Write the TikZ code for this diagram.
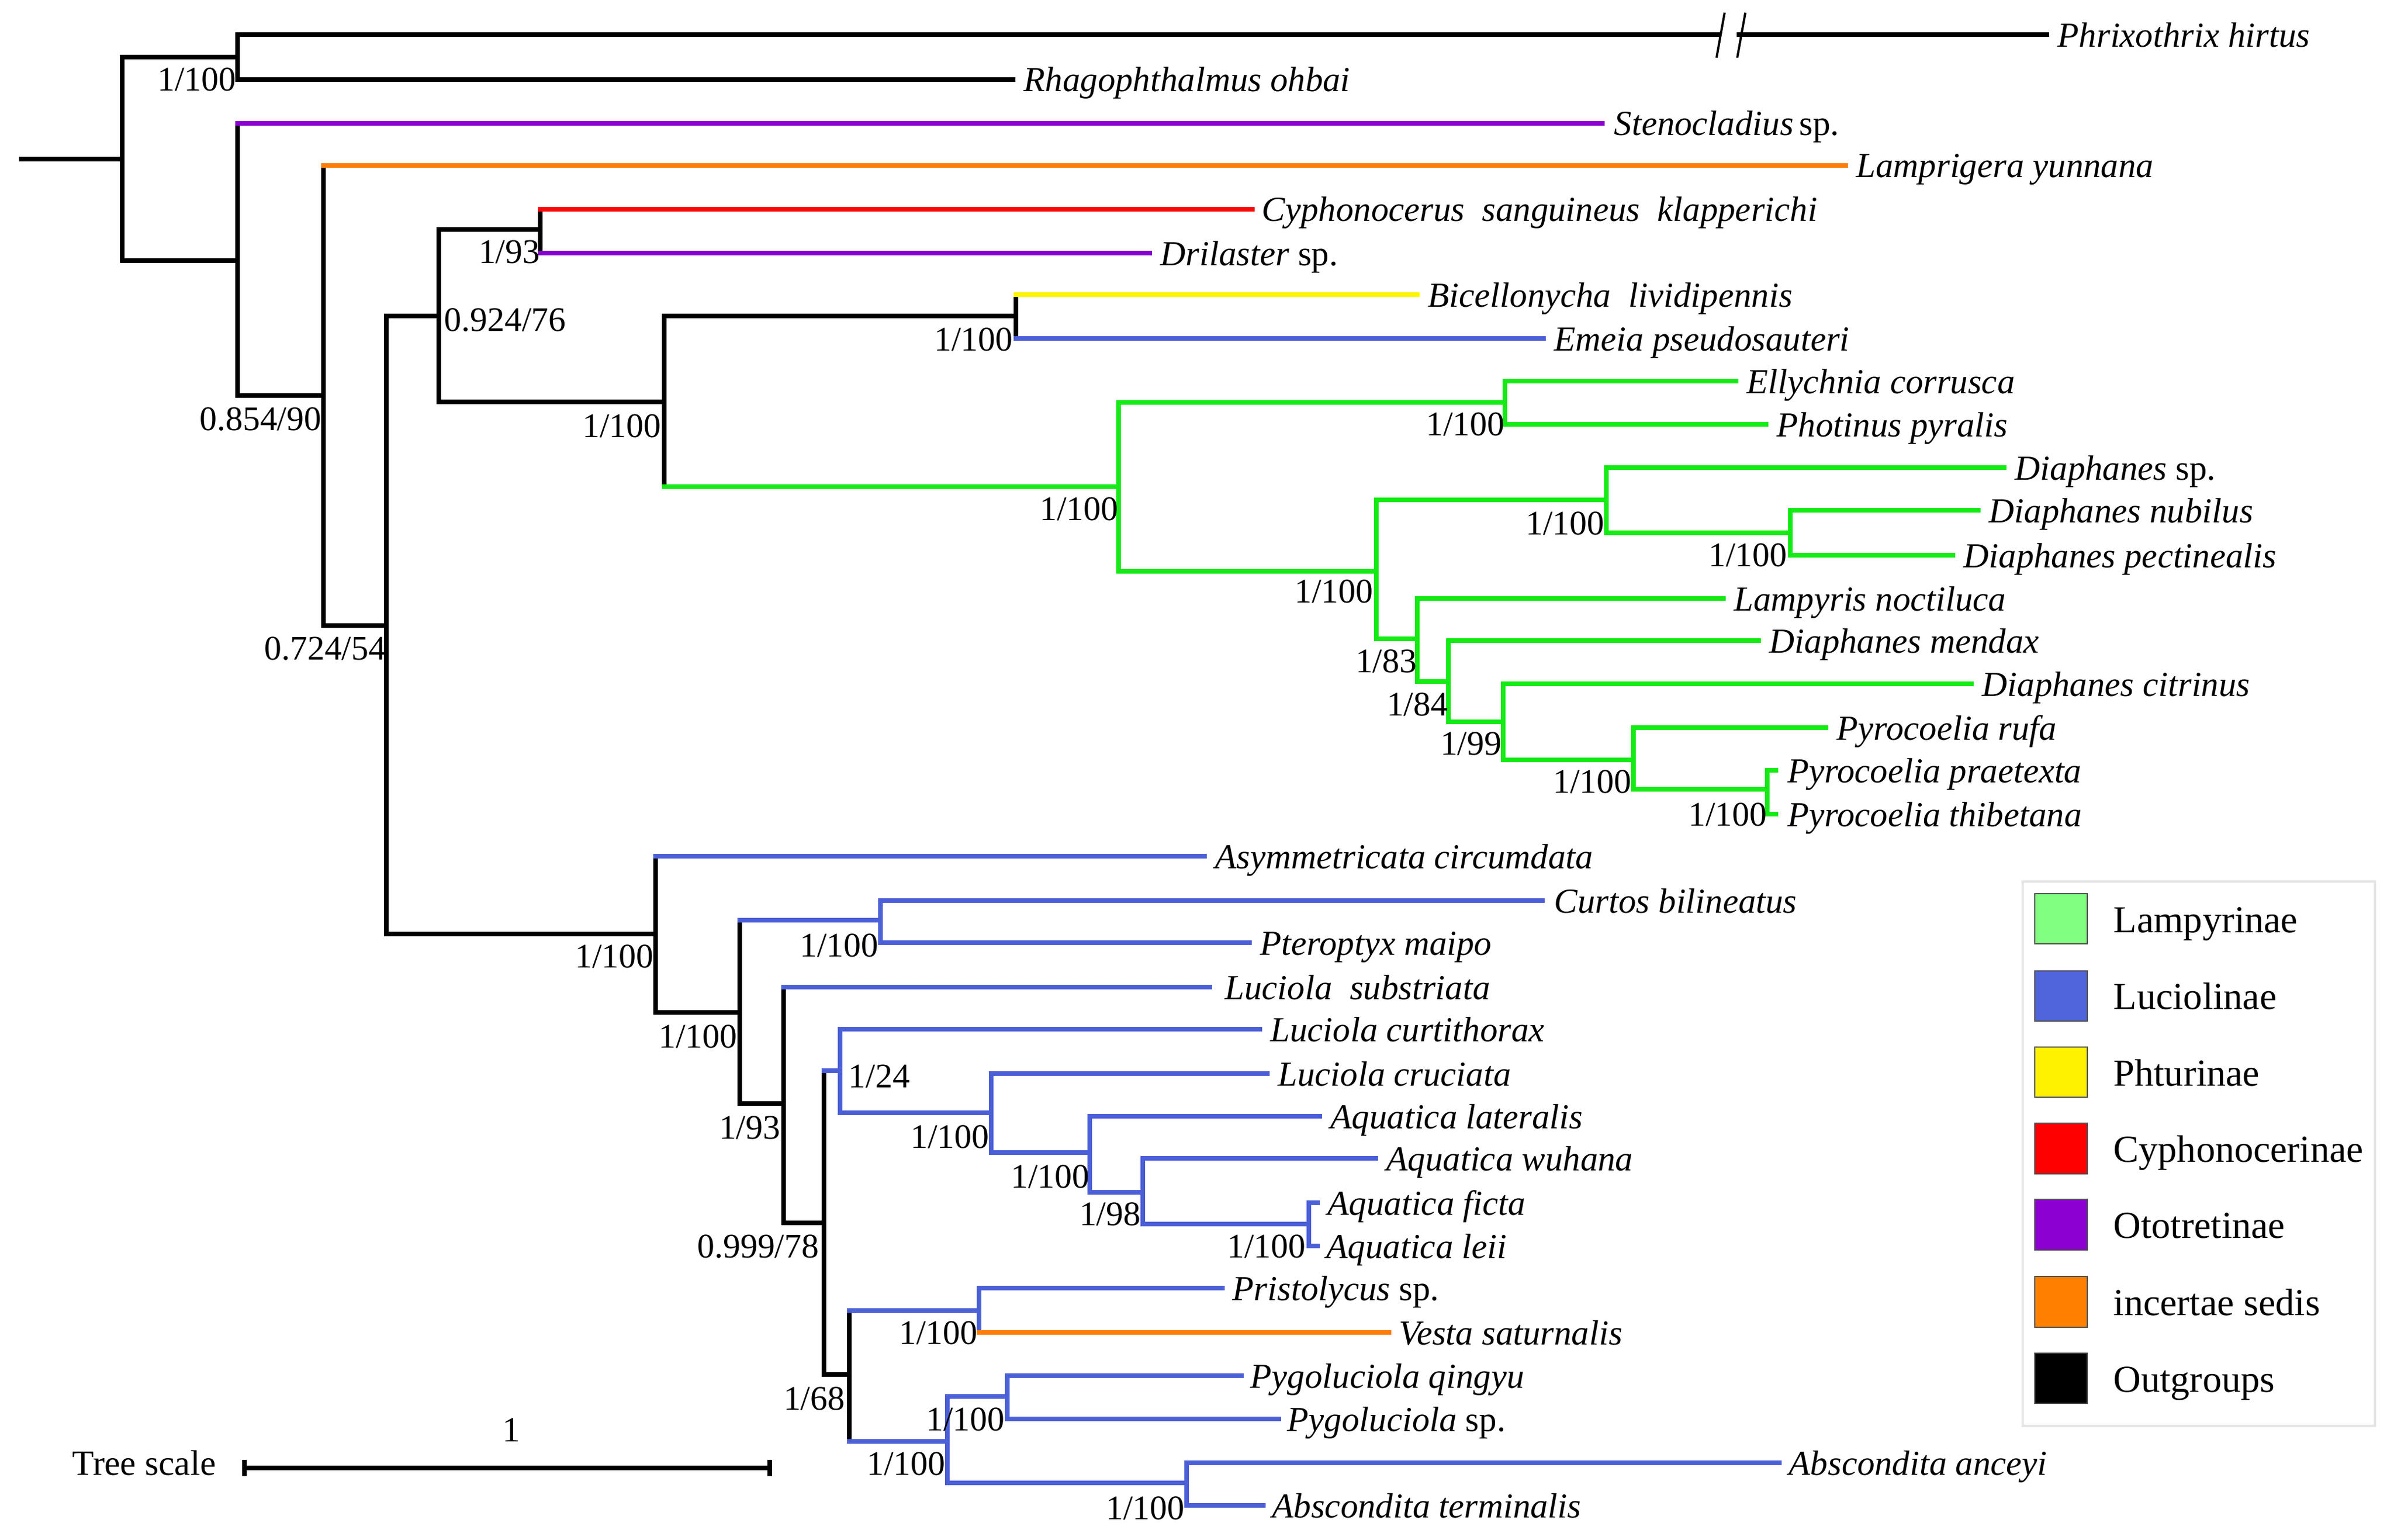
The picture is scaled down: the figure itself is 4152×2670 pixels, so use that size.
\documentclass[tikz,border=0pt]{standalone}
\usepackage{fontspec}
\setmainfont{Liberation Serif}
\usetikzlibrary{calc}
\definecolor{cgreen}{RGB}{20,235,20}
\definecolor{cblue}{RGB}{75,95,215}
\definecolor{cpurple}{RGB}{135,0,205}
\definecolor{corange}{RGB}{255,125,10}
\definecolor{cyellow}{RGB}{255,245,0}
\definecolor{cred}{RGB}{250,10,10}
\definecolor{lgreen}{RGB}{128,255,128}
\definecolor{lblue}{RGB}{80,100,220}
\definecolor{lpurple}{RGB}{140,0,210}
\definecolor{lorange}{RGB}{255,128,0}
\newcommand\tvert[4]{\draw[br,#1] (#2|-#3) -- (#2|-#4);}
\newcommand\tedge[3]{\draw[br,#1] (#2|-#3) -- (#3);}
\begin{document}
\begin{tikzpicture}[x=0.01cm,y=-0.01cm,
  br/.style={line width=2.3pt,line cap=rect},
  leaf/.style={anchor=base west,inner sep=0pt,font=\fontsize{17.3}{20}\selectfont\itshape},
  sup/.style={anchor=base east,inner sep=0pt,font=\fontsize{17}{20}\selectfont},
  supr/.style={anchor=base west,inner sep=0pt,font=\fontsize{17}{20}\selectfont},
  legtext/.style={anchor=base west,inner sep=0pt,font=\fontsize{18.8}{22}\selectfont},
  legbox/.style={draw=black!70,line width=0.6pt}]
\useasboundingbox[fill=white] (0,0) rectangle (4152,2670);
% internal nodes
\coordinate (R0) at (37,276);
\coordinate (Rt) at (212,276);
\coordinate (A) at (412,99);
\coordinate (B) at (412,452);
\coordinate (C) at (561,686);
\coordinate (D) at (670,1085);
\coordinate (E) at (761,548);
\coordinate (F) at (937,398);
\coordinate (G) at (1152,697);
\coordinate (H) at (1762,548);
\coordinate (I) at (1940,844);
\coordinate (J) at (2610,698);
\coordinate (K) at (2387,991);
\coordinate (L) at (2786,867);
\coordinate (M) at (3105,924);
\coordinate (N) at (2458,1108);
\coordinate (O) at (2512,1182);
\coordinate (P) at (2607,1252);
\coordinate (Q) at (2833,1318);
\coordinate (R) at (3065,1369);
\coordinate (S) at (1137,1620);
\coordinate (T) at (1283,1756);
\coordinate (U) at (1527,1596);
\coordinate (V) at (1359,1914);
\coordinate (W) at (1429,2121);
\coordinate (X) at (1457,1857);
\coordinate (Y) at (1719,1930);
\coordinate (Z) at (1890,1999);
\coordinate (AA) at (1982,2068);
\coordinate (AB) at (2270,2123);
\coordinate (AC) at (1473,2384);
\coordinate (AD) at (1698,2273);
\coordinate (AE) at (1643,2500);
\coordinate (AF) at (1747,2422);
\coordinate (AG) at (2058,2572);
% leaf tips
\coordinate (Ph) at (3550,60);
\coordinate (Rh) at (1757,138);
\coordinate (St) at (2779,214);
\coordinate (La) at (3201,287);
\coordinate (Cy) at (2172,363);
\coordinate (Dr) at (1994,439);
\coordinate (Bi) at (2458,511);
\coordinate (Em) at (2677,587);
\coordinate (El) at (3011,661);
\coordinate (Pp) at (3063,736);
\coordinate (Ds) at (3476,811);
\coordinate (Dn) at (3431,885);
\coordinate (Dp) at (3387,963);
\coordinate (Ln) at (2989,1038);
\coordinate (Dm) at (3050,1111);
\coordinate (Dc) at (3419,1186);
\coordinate (Pr) at (3167,1262);
\coordinate (Pt) at (3080,1336);
\coordinate (Pth) at (3080,1412);
\coordinate (As) at (2089,1485);
\coordinate (Cb) at (2675,1562);
\coordinate (Pm) at (2167,1635);
\coordinate (Ls) at (2098,1712);
\coordinate (Lc) at (2185,1785);
\coordinate (Lcr) at (2198,1862);
\coordinate (Al) at (2289,1936);
\coordinate (Aw) at (2386,2009);
\coordinate (Af) at (2285,2086);
\coordinate (Ale) at (2285,2161);
\coordinate (Pri) at (2120,2234);
\coordinate (Ve) at (2409,2311);
\coordinate (Pq) at (2153,2386);
\coordinate (Psp) at (2218,2461);
\coordinate (Aa) at (3086,2537);
\coordinate (At) at (2191,2611);
\coordinate (brkL) at (2980,60);
\coordinate (brkR) at (3016,60);
% branches
\draw[br] (R0) -- (Rt);
\tvert{black}{Rt}{A}{B}
\tedge{black}{Rt}{A}
\tedge{black}{Rt}{B}
\tvert{black}{A}{Ph}{Rh}
\draw[br] (A|-Ph) -- (brkL);
\draw[br] (brkR) -- (Ph);
\draw[line width=1.1pt] (2991,22) -- (2977,100);
\draw[line width=1.1pt] (3027,22) -- (3013,100);
\tedge{black}{A}{Rh}
\tvert{black}{B}{St}{C}
\tedge{cpurple}{B}{St}
\tedge{black}{B}{C}
\tvert{black}{C}{La}{D}
\tedge{corange}{C}{La}
\tedge{black}{C}{D}
\tvert{black}{D}{E}{S}
\tedge{black}{D}{E}
\tedge{black}{D}{S}
\tvert{black}{E}{F}{G}
\tedge{black}{E}{F}
\tedge{black}{E}{G}
\tvert{black}{F}{Cy}{Dr}
\tedge{cred}{F}{Cy}
\tedge{cpurple}{F}{Dr}
\tvert{black}{G}{H}{I}
\tedge{black}{G}{H}
\tedge{cgreen}{G}{I}
\tvert{black}{H}{Bi}{Em}
\tedge{cyellow}{H}{Bi}
\tedge{cblue}{H}{Em}
\tvert{cgreen}{I}{J}{K}
\tedge{cgreen}{I}{J}
\tedge{cgreen}{I}{K}
\tvert{cgreen}{J}{El}{Pp}
\tedge{cgreen}{J}{El}
\tedge{cgreen}{J}{Pp}
\tvert{cgreen}{K}{L}{N}
\tedge{cgreen}{K}{L}
\tedge{cgreen}{K}{N}
\tvert{cgreen}{L}{Ds}{M}
\tedge{cgreen}{L}{Ds}
\tedge{cgreen}{L}{M}
\tvert{cgreen}{M}{Dn}{Dp}
\tedge{cgreen}{M}{Dn}
\tedge{cgreen}{M}{Dp}
\tvert{cgreen}{N}{Ln}{O}
\tedge{cgreen}{N}{Ln}
\tedge{cgreen}{N}{O}
\tvert{cgreen}{O}{Dm}{P}
\tedge{cgreen}{O}{Dm}
\tedge{cgreen}{O}{P}
\tvert{cgreen}{P}{Dc}{Q}
\tedge{cgreen}{P}{Dc}
\tedge{cgreen}{P}{Q}
\tvert{cgreen}{Q}{Pr}{R}
\tedge{cgreen}{Q}{Pr}
\tedge{cgreen}{Q}{R}
\tvert{cgreen}{R}{Pt}{Pth}
\tedge{cgreen}{R}{Pt}
\tedge{cgreen}{R}{Pth}
\tvert{black}{S}{As}{T}
\tedge{cblue}{S}{As}
\tedge{black}{S}{T}
\tvert{black}{T}{U}{V}
\tedge{cblue}{T}{U}
\tedge{black}{T}{V}
\tvert{cblue}{U}{Cb}{Pm}
\tedge{cblue}{U}{Cb}
\tedge{cblue}{U}{Pm}
\tvert{black}{V}{Ls}{W}
\tedge{cblue}{V}{Ls}
\tedge{black}{V}{W}
\tvert{black}{W}{X}{AC}
\tedge{cblue}{W}{X}
\tedge{black}{W}{AC}
\tvert{cblue}{X}{Lc}{Y}
\tedge{cblue}{X}{Lc}
\tedge{cblue}{X}{Y}
\tvert{cblue}{Y}{Lcr}{Z}
\tedge{cblue}{Y}{Lcr}
\tedge{cblue}{Y}{Z}
\tvert{cblue}{Z}{Al}{AA}
\tedge{cblue}{Z}{Al}
\tedge{cblue}{Z}{AA}
\tvert{cblue}{AA}{Aw}{AB}
\tedge{cblue}{AA}{Aw}
\tedge{cblue}{AA}{AB}
\tvert{cblue}{AB}{Af}{Ale}
\tedge{cblue}{AB}{Af}
\tedge{cblue}{AB}{Ale}
\tvert{black}{AC}{AD}{AE}
\tedge{cblue}{AC}{AD}
\tedge{cblue}{AC}{AE}
\tvert{cblue}{AD}{Pri}{Ve}
\tedge{cblue}{AD}{Pri}
\tedge{corange}{AD}{Ve}
\tvert{cblue}{AE}{AF}{AG}
\tedge{cblue}{AE}{AF}
\tedge{cblue}{AE}{AG}
\tvert{cblue}{AF}{Pq}{Psp}
\tedge{cblue}{AF}{Pq}
\tedge{cblue}{AF}{Psp}
\tvert{cblue}{AG}{Aa}{At}
\tedge{cblue}{AG}{Aa}
\tedge{cblue}{AG}{At}
% leaf labels
\node[leaf] (lPh) at ($(Ph)+(18,22)$) {Phrixothrix hirtus};
\node[leaf] (lRh) at ($(Rh)+(18,21)$) {Rhagophthalmus ohbai};
\node[leaf] (lSt) at ($(St)+(20,21)$) {Stenocladius\,{\upshape sp.}};
\node[leaf] (lLa) at ($(La)+(18,21)$) {Lamprigera yunnana};
\node[leaf] (lCy) at ($(Cy)+(16,21)$) {Cyphonocerus\ \ sanguineus\ \ klapperichi};
\node[leaf] (lDr) at ($(Dr)+(18,21)$) {Drilaster {\upshape sp.}};
\node[leaf] (lBi) at ($(Bi)+(18,21)$) {Bicellonycha\ \ lividipennis};
\node[leaf] (lEm) at ($(Em)+(18,21)$) {Emeia pseudosauteri};
\node[leaf] (lEl) at ($(El)+(18,21)$) {Ellychnia corrusca};
\node[leaf] (lPp) at ($(Pp)+(18,21)$) {Photinus pyralis};
\node[leaf] (lDs) at ($(Ds)+(18,21)$) {Diaphanes {\upshape sp.}};
\node[leaf] (lDn) at ($(Dn)+(18,21)$) {Diaphanes nubilus};
\node[leaf] (lDp) at ($(Dp)+(18,21)$) {Diaphanes pectinealis};
\node[leaf] (lLn) at ($(Ln)+(18,21)$) {Lampyris noctiluca};
\node[leaf] (lDm) at ($(Dm)+(18,21)$) {Diaphanes mendax};
\node[leaf] (lDc) at ($(Dc)+(18,21)$) {Diaphanes citrinus};
\node[leaf] (lPr) at ($(Pr)+(18,21)$) {Pyrocoelia rufa};
\node[leaf] (lPt) at ($(Pt)+(20,21)$) {Pyrocoelia praetexta};
\node[leaf] (lPth) at ($(Pth)+(20,21)$) {Pyrocoelia thibetana};
\node[leaf] (lAs) at ($(As)+(18,21)$) {Asymmetricata circumdata};
\node[leaf] (lCb) at ($(Cb)+(20,21)$) {Curtos bilineatus};
\node[leaf] (lPm) at ($(Pm)+(18,21)$) {Pteroptyx maipo};
\node[leaf] (lLs) at ($(Ls)+(26,21)$) {Luciola\ \ substriata};
\node[leaf] (lLc) at ($(Lc)+(18,21)$) {Luciola curtithorax};
\node[leaf] (lLcr) at ($(Lcr)+(18,21)$) {Luciola cruciata};
\node[leaf] (lAl) at ($(Al)+(18,21)$) {Aquatica lateralis};
\node[leaf] (lAw) at ($(Aw)+(18,21)$) {Aquatica wuhana};
\node[leaf] (lAf) at ($(Af)+(17,21)$) {Aquatica ficta};
\node[leaf] (lAle) at ($(Ale)+(15,21)$) {Aquatica leii};
\node[leaf] (lPri) at ($(Pri)+(17,21)$) {Pristolycus {\upshape sp.}};
\node[leaf] (lVe) at ($(Ve)+(17,21)$) {Vesta saturnalis};
\node[leaf] (lPq) at ($(Pq)+(15,21)$) {Pygoluciola qingyu};
\node[leaf] (lPsp) at ($(Psp)+(14,21)$) {Pygoluciola {\upshape sp.}};
\node[leaf] (lAa) at ($(Aa)+(16,21)$) {Abscondita anceyi};
\node[leaf] (lAt) at ($(At)+(15,21)$) {Abscondita terminalis};
% support values
\node[sup] (sA) at (410,158) {1/100};
\node[sup] (sC) at (558,746) {0.854/90};
\node[sup] (sD) at (670,1144) {0.724/54};
\node[supr] (sE) at (770,574) {0.924/76};
\node[sup] (sF) at (937,456) {1/93};
\node[sup] (sG) at (1147,758) {1/100};
\node[sup] (sH) at (1757,608) {1/100};
\node[sup] (sI) at (1940,902) {1/100};
\node[sup] (sJ) at (2610,755) {1/100};
\node[sup] (sK) at (2382,1045) {1/100};
\node[sup] (sL) at (2783,927) {1/100};
\node[sup] (sM) at (3100,982) {1/100};
\node[sup] (sN) at (2458,1166) {1/83};
\node[sup] (sO) at (2512,1241) {1/84};
\node[sup] (sP) at (2605,1309) {1/99};
\node[sup] (sQ) at (2830,1375) {1/100};
\node[sup] (sR) at (3065,1432) {1/100};
\node[sup] (sS) at (1134,1678) {1/100};
\node[sup] (sT) at (1279,1817) {1/100};
\node[sup] (sU) at (1524,1659) {1/100};
\node[sup] (sV) at (1354,1975) {1/93};
\node[sup] (sW) at (1421,2181) {0.999/78};
\node[supr] (sX) at (1471,1886) {1/24};
\node[sup] (sY) at (1716,1991) {1/100};
\node[sup] (sZ) at (1890,2060) {1/100};
\node[sup] (sAA) at (1979,2125) {1/98};
\node[sup] (sAB) at (2265,2181) {1/100};
\node[sup] (sAC) at (1466,2445) {1/68};
\node[sup] (sAD) at (1696,2331) {1/100};
\node[sup] (sAE) at (1640,2558) {1/100};
\node[sup] (sAF) at (1743,2481) {1/100};
\node[sup] (sAG) at (2055,2635) {1/100};
% tree scale
\node[anchor=base west,inner sep=0pt,font=\fontsize{17.5}{20}\selectfont] (tsl) at (125,2558) {Tree scale};
\coordinate (sb1) at (424,2546);
\coordinate (sb2) at (1335,2546);
\draw[line width=2.3pt] (sb1) -- (sb2);
\draw[line width=2.2pt] ($(sb1)+(0,-14)$) -- ($(sb1)+(0,14)$);
\draw[line width=2.2pt] ($(sb2)+(0,-14)$) -- ($(sb2)+(0,14)$);
\node[anchor=base,inner sep=0pt,font=\fontsize{17.5}{20}\selectfont] (tsn) at (887,2500) {1};
% legend
\draw[black!10,line width=1pt] (3508,1529) rectangle (4119,2473);
\draw[legbox,fill=lgreen] (3529,1550) rectangle (3620,1637);
\node[legtext] (g1) at (3665,1617) {Lampyrinae};
\draw[legbox,fill=lblue] (3529,1684) rectangle (3620,1771);
\node[legtext] (g2) at (3665,1750) {Luciolinae};
\draw[legbox,fill=yellow] (3529,1816) rectangle (3620,1903);
\node[legtext] (g3) at (3665,1883) {Phturinae};
\draw[legbox,fill=red] (3529,1948) rectangle (3620,2036);
\node[legtext] (g4) at (3665,2015) {Cyphonocerinae};
\draw[legbox,fill=lpurple] (3529,2080) rectangle (3620,2168);
\node[legtext] (g5) at (3665,2147) {Ototretinae};
\draw[legbox,fill=lorange] (3529,2214) rectangle (3620,2302);
\node[legtext] (g6) at (3665,2281) {incertae sedis};
\draw[legbox,fill=black] (3529,2347) rectangle (3620,2434);
\node[legtext] (g7) at (3665,2414) {Outgroups};
\end{tikzpicture}
\end{document}
